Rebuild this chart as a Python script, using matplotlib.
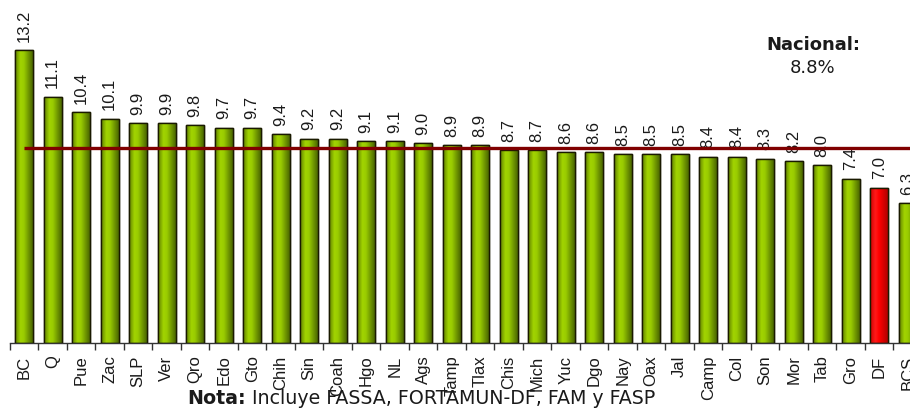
import matplotlib
matplotlib.use("Agg")
import matplotlib.pyplot as plt
import numpy as np
from matplotlib.colors import LinearSegmentedColormap

plt.rcParams["font.family"] = ["Liberation Sans", "DejaVu Sans"]

categories = ["BC", "Q", "Pue", "Zac", "SLP", "Ver", "Qro", "Edo", "Gto", "Chih",
              "Sin", "Coah", "Hgo", "NL", "Ags", "Tamp", "Tlax", "Chis", "Mich", "Yuc",
              "Dgo", "Nay", "Oax", "Jal", "Camp", "Col", "Son", "Mor", "Tab", "Gro",
              "DF", "BCS"]
values = [13.2, 11.1, 10.4, 10.1, 9.9, 9.9, 9.8, 9.7, 9.7, 9.4,
          9.2, 9.2, 9.1, 9.1, 9.0, 8.9, 8.9, 8.7, 8.7, 8.6,
          8.6, 8.5, 8.5, 8.5, 8.4, 8.4, 8.3, 8.2, 8.0, 7.4,
          7.0, 6.3]
highlight = "DF"
nacional = 8.8
note_bold = "Nota:"
note_text = " Incluye FASSA, FORTAMUN-DF, FAM y FASP"

fig = plt.figure(figsize=(9.10, 4.09), dpi=100)
ax = fig.add_axes([10/910, 66/409, 900/910, 343/409])

x = np.arange(len(categories))
green_cmap = LinearSegmentedColormap.from_list(
    "g", [(0, "#5f8000"), (0.3, "#a2d400"), (0.5, "#99cc00"), (1, "#4a6600")])
red_cmap = LinearSegmentedColormap.from_list(
    "r", [(0, "#cc0000"), (0.3, "#ff1a1a"), (0.5, "#ff0000"), (1, "#b00000")])

bars = ax.bar(x, values, width=0.62, color="#99cc00", edgecolor="#1a1a00",
              linewidth=1.0, zorder=2)
grad = np.linspace(0, 1, 64).reshape(1, -1)
for cat, b in zip(categories, bars):
    cmap = red_cmap if cat == highlight else green_cmap
    if cat == highlight:
        b.set_facecolor("#ff0000")
    im = ax.imshow(grad, extent=[b.get_x(), b.get_x() + b.get_width(), 0, b.get_height()],
                   aspect="auto", cmap=cmap, zorder=2.5, interpolation="bilinear")
    im.set_clip_path(b)
    ax.bar(b.get_x() + b.get_width() / 2, b.get_height(), width=b.get_width(),
           color="none", edgecolor="#1a1a00", linewidth=1.0, zorder=3)

for xi, v in zip(x, values):
    ax.annotate(f"{v:.1f}", (xi, v), xytext=(0, 6), textcoords="offset points",
                rotation=90, ha="center", va="bottom", fontsize=12, color="#1a1a1a")

ax.plot([x[0], x[-1] + 1], [nacional, nacional], color="#800000", linewidth=2.4, zorder=4,
        solid_capstyle="butt")

ax.set_xticks(np.arange(len(categories) + 1) - 0.5, minor=False)
ax.set_xticklabels([])
ax.set_xticks(x, minor=True)
ax.set_xticklabels(categories, minor=True, rotation=90, fontsize=12, color="#1a1a1a")
ax.tick_params(axis="x", which="major", direction="out", length=5, width=1, color="#333333")
ax.tick_params(axis="x", which="minor", length=0, pad=9)
ax.set_yticks([])
ax.set_xlim(-0.5, 31.08)
ax.set_ylim(0, 343/22.2)
for s in ["top", "right", "left"]:
    ax.spines[s].set_visible(False)
ax.spines["bottom"].set_color("#333333")
ax.spines["bottom"].set_linewidth(1.0)

fig.text(813/910, 1 - 45/409, "Nacional:", ha="center", va="center", fontsize=13,
         fontweight="bold", color="#1a1a1a", family=["DejaVu Sans"])
fig.text(813/910, 1 - 68/409, f"{nacional:.1f}%", ha="center", va="center", fontsize=13,
         color="#1a1a1a", family=["DejaVu Sans"])

t1 = fig.text(187/910, 1 - 399/409, note_bold, ha="left", va="center", fontsize=13.7,
              fontweight="bold", color="#1a1a1a", zorder=1, family=["DejaVu Sans"])
fig.canvas.draw()
bb = t1.get_window_extent()
fig.text(bb.x1 / fig.bbox.width, 1 - 399/409, note_text, ha="left", va="center",
         fontsize=13.7, color="#1a1a1a", zorder=1, family=["DejaVu Sans"])

fig.savefig("out.png", dpi=100)
